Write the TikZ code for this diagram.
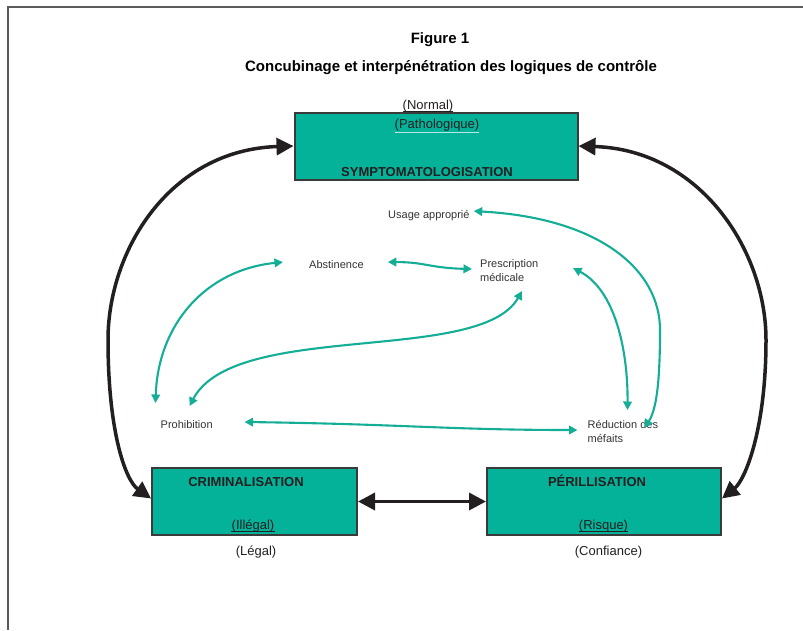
\documentclass[tikz,border=0pt]{standalone}
\usepackage{fontspec}
\setmainfont{Liberation Sans}
\usetikzlibrary{arrows.meta}
\definecolor{boxteal}{HTML}{04B29A}
\definecolor{lineteal}{HTML}{14AE96}
\definecolor{boxborder}{HTML}{3A3A3A}
\definecolor{arrowblack}{HTML}{231F20}
\definecolor{framegray}{HTML}{5A5A5A}
\definecolor{textgray}{HTML}{333333}
\definecolor{lightline}{HTML}{B8E8E0}
\begin{document}
\begin{tikzpicture}[x=1pt,y=-1pt,
  box/.style={draw=boxborder, line width=2pt, fill=boxteal, inner sep=0pt, anchor=north west},
  lab/.style={inner sep=0pt, anchor=base, font=\fontsize{13}{15}\selectfont, text=arrowblack},
  blab/.style={inner sep=0pt, anchor=base, font=\fontsize{13}{15}\selectfont\bfseries, text=arrowblack},
  small/.style={inner sep=0pt, font=\fontsize{11}{14}\selectfont, text=textgray, align=left},
  blk/.style={line width=3.5pt, draw=arrowblack, {Triangle[length=17pt,width=17pt]}-{Triangle[length=17pt,width=17pt]}},
  tl/.style={line width=2.1pt, draw=lineteal, {Triangle[length=8.5pt,width=8.5pt]}-{Triangle[length=8.5pt,width=8.5pt]}}
]
\useasboundingbox (0,0) rectangle (803,630);
\draw[line width=1.6pt, draw=framegray] (8,630) -- (8,7) -- (803,7);

% titles
\node[inner sep=0pt, anchor=base, font=\fontsize{15}{18}\selectfont\bfseries] (fig) at (440,43) {Figure 1};
\node[inner sep=0pt, anchor=base, font=\fontsize{15}{18}\selectfont\bfseries] (title) at (451,71) {Concubinage et interpénétration des logiques de contrôle};

% boxes
\node[box, minimum width=283pt, minimum height=67pt] (sym) at (293.5,111.5) {};
\node[box, minimum width=205pt, minimum height=67pt] (crim) at (151,467) {};
\node[box, minimum width=234pt, minimum height=67pt] (peril) at (486,467) {};

% box texts
\node[lab] (nrm) at (428,109.5) {(Normal)};
\draw[line width=1pt, arrowblack] ([yshift=-2pt]nrm.base west) -- ([yshift=-2pt]nrm.base east);
\node[lab] (path) at (437,128.5) {(Pathologique)};
\draw[line width=0.8pt, lightline] ([yshift=-3.5pt]path.base west) -- ([yshift=-3.5pt]path.base east);
\node[blab] (symt) at (427,176) {SYMPTOMATOLOGISATION};

\node[blab] (crimt) at (246,486.5) {CRIMINALISATION};
\node[lab] (ill) at (253,529) {(Illégal)};
\draw[line width=0.9pt, arrowblack] ([yshift=-2.5pt]ill.base west) -- ([yshift=-2.5pt]ill.base east);
\node[lab] (leg) at (256,555) {(Légal)};

\node[blab] (perilt) at (597,486.5) {PÉRILLISATION};
\node[lab] (ris) at (603.5,529) {(Risque)};
\draw[line width=0.9pt, arrowblack] ([yshift=-2.5pt]ris.base west) -- ([yshift=-2.5pt]ris.base east);
\node[lab] (conf) at (608.5,555) {(Confiance)};

% small labels
\node[small, anchor=base west] (usage) at (388,218) {Usage approprié};
\node[small, anchor=base west] (abst) at (309,268) {Abstinence};
\node[small, anchor=north west] (presc) at (480,259) {Prescription\\médicale};
\node[small, anchor=base west] (prohib) at (160.5,428) {Prohibition};
\node[small, anchor=north west] (reduc) at (587.5,420) {Réduction des\\méfaits};

% black arrows
\draw[blk] (sym.west) .. controls (170,150) and (108,250) .. (108,340)
  .. controls (108,430) and (125,480) .. ([shift={(0,-3)}]crim.west);
\draw[blk] (sym.east) .. controls (700,150) and (766,250) .. (766,340)
  .. controls (766,430) and (745,480) .. ([shift={(0,-3)}]peril.east);
\draw[blk] (crim.east) -- (peril.west);

% teal arrows
\draw[tl] ([shift={(4,-4)}]usage.east) .. controls (600,218) and (660,270) .. (660,330)
  .. controls (660,385) and (656,410) .. ([shift={(57,8)}]reduc.north west);
\draw[tl] ([shift={(93,9)}]presc.north west) .. controls (615,290) and (628,350) .. ([shift={(40,-10)}]reduc.north west);
\draw[tl] ([shift={(-26,-2)}]abst.west) .. controls (205,270) and (158,325) .. ([shift={(-5,-25)}]prohib.base west);
\draw[tl] ([shift={(29,-22)}]prohib.base west) .. controls (235,320) and (480,365) .. ([shift={(42,32)}]presc.north west);
\draw[tl] ([shift={(24,-2)}]abst.east) .. controls (425,262) and (430,268) .. ([shift={(-8,10)}]presc.north west);
\draw[tl] ([shift={(84,-6)}]prohib.base west) .. controls (400,424) and (450,430) .. ([shift={(-10,10)}]reduc.north west);
\end{tikzpicture}
\end{document}
